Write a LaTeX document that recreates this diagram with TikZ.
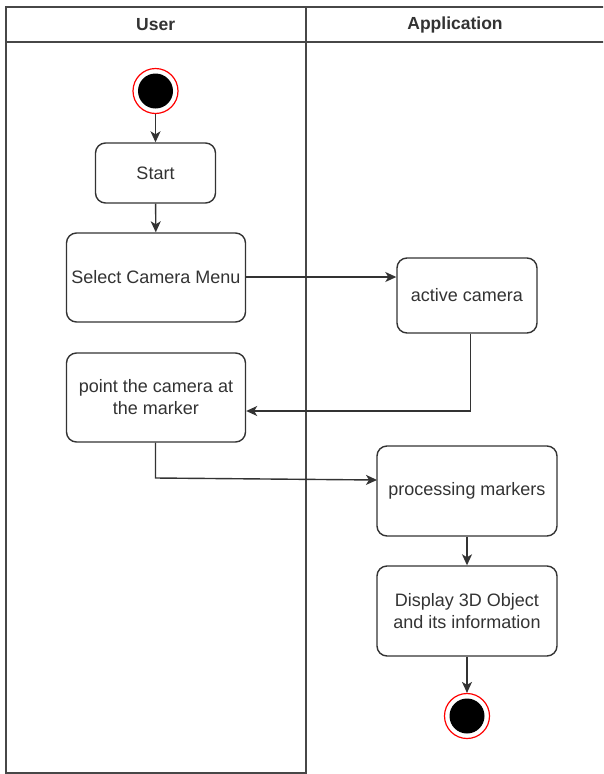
\documentclass[tikz,border=0pt]{standalone}
\usepackage{fontspec}
\setmainfont{Liberation Sans}
\usetikzlibrary{arrows.meta,calc}
\definecolor{ln}{HTML}{333333}
\tikzset{
  act/.style={draw=ln, line width=1.4pt, rounded corners=10pt, fill=white, align=center,
    inner sep=0pt, text=ln, font=\fontsize{18}{22}\selectfont},
  conn/.style={draw=ln, line width=1.4pt, -{Stealth[length=11pt,width=10pt,inset=3pt]}},
  lane/.style={draw=ln!90, line width=1.8pt},
  hdr/.style={font=\fontsize{17.5}{20}\selectfont\bfseries, text=ln},
  outer/.style={circle, draw=red, line width=1.2pt, fill=white, minimum size=45pt, inner sep=0pt},
  inner/.style={circle, fill=black, minimum size=35pt, inner sep=0pt}
}
\begin{document}
\begin{tikzpicture}[x=1pt,y=-1pt]
\useasboundingbox (0,0) rectangle (603,774);
\fill[white] (0,0) rectangle (603,774);
% pool
\begin{scope}
\clip (0,0) rectangle (603,774);
\draw[lane] (5.7,7.3) rectangle (305.7,772.7);
\draw[lane] (5.7,42) -- (610,42);
\draw[lane] (305.7,7.3) -- (610,7.3);
\end{scope}
\node[hdr] (hu) at (155.7,24.5) {User};
\node[hdr] (ha) at (455,24.5) {Application};
% nodes
\node[outer] (init) at (155.5,91) {};
\node[inner] (initc) at (155.5,91) {};
\node[act, minimum width=120pt, minimum height=60pt] (start) at (155.5,173) {Start};
\node[act, minimum width=179pt, minimum height=89pt] (sel) at (156,277.5) {Select Camera Menu};
\node[act, minimum width=140pt, minimum height=75pt] (cam) at (467,295.5) {active camera};
\node[act, minimum width=179pt, minimum height=89pt] (point) at (156,397.5) {point the camera at\\the marker};
\node[act, minimum width=180pt, minimum height=90pt] (proc) at (467,491) {processing markers};
\node[act, minimum width=180pt, minimum height=90pt] (disp) at (467,611) {Display 3D Object\\and its information};
\node[outer] (fin) at (467,716) {};
\node[inner] (finc) at (467,716) {};
% connectors
\draw[conn] (init) -- (start);
\draw[conn] (start) -- (sel);
\draw[conn] (sel.east |- 0,277) -- (cam.west |- 0,277);
\coordinate (c1) at (470.5,411);
\draw[conn] (cam.south -| c1) -- (c1) -- (point.east |- c1);
\coordinate (c2) at (155.5,478);
\coordinate (c3) at (377,480);
\draw[conn] (point.south -| c2) -- (c2) -- (c3);
\draw[conn] (proc) -- (disp);
\draw[conn] (disp) -- (fin);
\end{tikzpicture}
\end{document}
